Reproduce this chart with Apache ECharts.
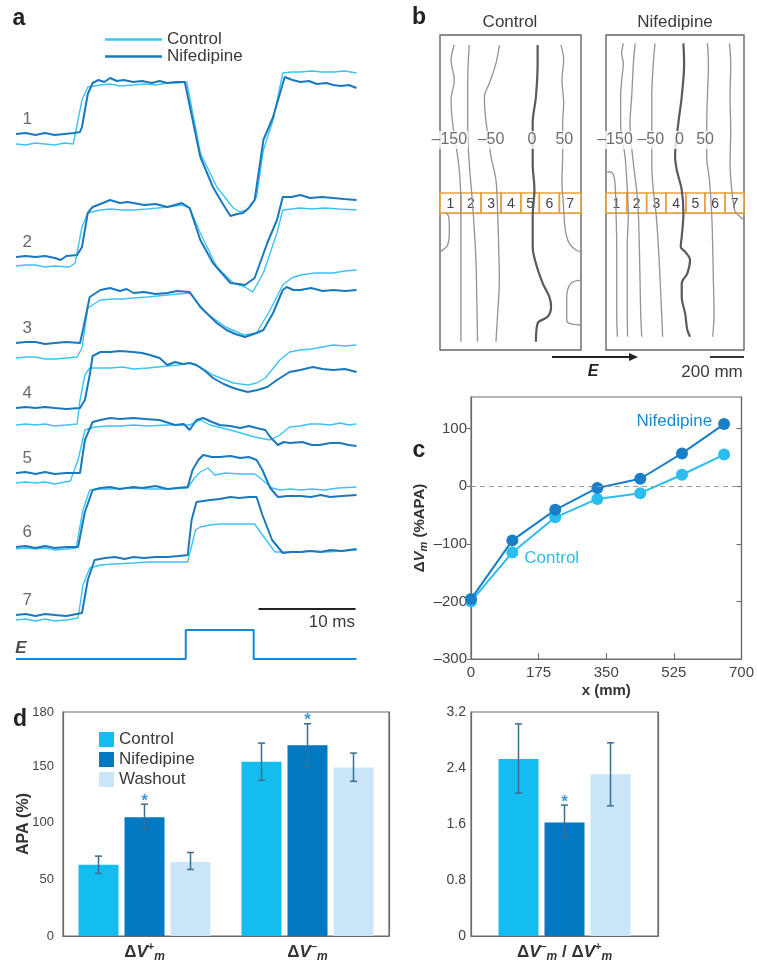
<!DOCTYPE html>
<html>
<head>
<meta charset="utf-8">
<script src="https://cdn.jsdelivr.net/npm/echarts@6/dist/echarts.min.js"></script>
<style>
  html, body { margin: 0; padding: 0; background: #fff; }
  #chart { width: 757px; height: 965px; }
</style>
</head>
<body>
<div id="chart"></div>
<script>
const FONT = 'Liberation Sans, Arial, sans-serif'
const TXT = '#3a3a3a'
const LIGHT = '#3cc4f2'
const DARK = '#1a78bd'
const CLEAR = 'rgba(0,0,0,0)'

// ---------- panel a: traces, [time ms, deflection above the trace row]
const traceRows = [134, 257, 343, 408, 473, 547, 615]
const eRow = 659
const ctrl1 = [[0,-10],[1,-11],[2,-9],[3,-10],[4,-11],[5,-9],[5.9,-10],[6.1,-8],[6.8,34],[7.4,47],[8.7,49],[9.7,50],[10.7,48],[12.1,49],[13.2,50],[14.4,49],[15.6,51],[16.6,51],[17.6,52],[19.0,-19],[20.7,-53],[22.4,-74],[23.1,-78],[23.8,-76],[24.8,-63],[25.5,-16],[26.5,14],[27.5,61],[28.4,62],[29.3,62],[30.5,63],[31.6,62],[32.7,62],[33.9,63],[35.1,61]]
const nif1 = [[0,0],[1,1],[2,-1],[3,1],[4,-1],[5,0],[6,1],[6.6,2],[6.8,7],[7.4,40],[7.9,51],[8.5,54],[9.1,52],[9.7,56],[10.4,53],[11.1,54],[12.1,52],[13,53],[14,51],[14.8,53],[15.6,51],[16.5,52],[17.4,52],[17.6,50],[19.0,-23],[20.3,-53],[21.2,-68],[22.1,-82],[22.8,-80],[23.4,-79],[24.0,-74],[24.6,-66],[25.5,-6],[26.5,17],[27.4,47],[27.7,57],[28.5,54],[29.3,52],[30.2,53],[31,50],[32,51],[32.7,49],[33.5,48],[34.3,49],[35.1,46]]
const ctrl2 = [[0,-9],[1,-8],[2,-8],[3,-10],[4,-9],[5.5,-10],[6.1,-6],[6.8,30],[7.4,44],[8.7,47],[9.7,48],[11,47],[12.1,47],[13.5,48],[14.6,49],[15.6,50],[17.1,52],[17.9,49],[19,24],[20.7,-10],[22.4,-26],[23.6,-30],[24.4,-35],[25.5,-16],[26.9,24],[27.5,47],[28.4,48],[29.3,49],[30.5,48],[31.8,49],[33.3,48],[35.1,47]]
const nif2 = [[0,0],[1,1],[2,0],[3,1],[4,-1],[4.6,-3],[5.2,1],[6.3,2],[6.8,10],[7.4,44],[7.9,50],[8.7,53],[9.7,57],[10.7,54],[11.5,55],[12.1,54],[13.2,52],[14.4,53],[15.6,50],[16.4,52],[17.1,54],[17.9,49],[19.0,17],[20.3,-6],[21.2,-16],[22.1,-26],[23.0,-27],[23.6,-28],[24.6,-21],[25.9,14],[26.9,37],[27.5,60],[28.4,60],[29.3,62],[30.3,59],[31.5,60],[32.7,59],[33.8,58],[35.1,57]]
const ctrl3 = [[0,-15],[1,-14],[2,-14],[3,-16],[4,-16],[5.2,-15],[6.3,-14],[6.8,-5],[7.4,35],[8.7,43],[10,44],[11,44],[12.1,45],[13.5,46],[14.6,47],[15.6,48],[17.9,50],[19.6,30],[21.6,16],[23.5,8],[24.8,10],[26.2,33],[27.5,58],[28.4,65],[29.3,68],[30.8,70],[32.7,70],[33.9,72],[35.1,73]]
const nif3 = [[0,0],[1,1],[2,1],[3,-1],[4,0],[5.2,1],[6.6,0],[6.9,13],[7.6,46],[8.7,53],[9.7,55],[10.7,52],[11.4,54],[12.1,50],[13.2,51],[14.4,49],[15.6,50],[16.6,52],[17.9,51],[19.0,36],[20.7,20],[21.7,13],[22.6,9],[23.6,6],[24.8,10],[25.5,13],[26.5,30],[27.5,53],[27.9,56],[28.6,53],[29.3,53],[30.4,55],[31.6,52],[32.7,53],[33.9,52],[35.1,53]]
const ctrl4 = [[0,-17],[1,-16],[2,-17],[3,-16],[4,-18],[5.2,-17],[6.3,-16],[6.6,8],[7.1,33],[7.6,40],[8.7,40],[9.7,40],[11,41],[12.1,39],[13.6,40],[15.6,42],[16.8,43],[17.9,45],[19.0,41],[20.3,33],[22.4,25],[23.9,23],[24.8,25],[25.7,30],[27.2,48],[28.2,56],[29.3,58],[30.5,59],[31.6,61],[32.7,63],[33.9,62],[35.1,63]]
const nif4 = [[0,0],[1,1],[2,0],[3,1],[4,0],[5.2,-1],[6.6,0],[7.1,8],[7.6,33],[7.9,52],[8.7,56],[9.7,56],[10.7,57],[12.1,56],[13.0,55],[13.8,53],[14.8,50],[15.6,43],[16.4,46],[17.2,44],[17.9,45],[18.6,43],[19.5,37],[20.3,30],[21.4,24],[22.4,20],[23.1,18],[23.9,16],[24.9,18],[25.9,21],[26.9,28],[28.2,36],[29.3,38],[30.6,41],[31.6,39],[32.7,38],[33.9,39],[35.1,36]]
const ctrl5 = [[0,-10],[1,-9],[2,-10],[3,-9],[4,-11],[5.6,-8],[6.4,13],[7.1,43],[8.1,46],[9.5,47],[10.8,47],[12.1,48],[13.6,47],[15.6,48],[17.9,48],[19.0,53],[20.0,48],[22.1,43],[24.6,36],[26.2,33],[27.2,38],[28.2,46],[29.3,47],[30.3,49],[31.3,49],[32.4,48],[33.4,50],[34.3,48],[35.1,49]]
const nif5 = [[0,0],[1,1],[2,-1],[3,1],[4,-1],[5.2,0],[6.6,0],[7.1,33],[7.9,51],[8.7,53],[9.7,55],[10.7,54],[12.1,55],[13.3,54],[14.8,53],[16.4,48],[17.3,49],[17.9,43],[18.6,53],[19.3,55],[20.2,51],[21.0,48],[22.1,47],[23.1,45],[24.0,47],[24.8,45],[25.7,43],[26.2,36],[27.0,28],[27.6,31],[28.2,30],[29.5,31],[30.5,28],[31.3,28],[32.4,30],[33.4,30],[34.3,28],[35.1,27]]
const ctrl6 = [[0,-2],[1,-1],[2,-2],[3,-1],[4,-3],[5.2,-2],[6.2,-1],[6.9,37],[7.6,57],[8.7,58],[9.7,58],[12.1,59],[13.6,58],[15.6,58],[17.7,59],[18.4,69],[19.0,75],[19.8,79],[20.5,72],[21.6,74],[23.1,73],[24.6,73],[25.4,67],[26.4,59],[27.2,57],[28.3,58],[29.3,57],[30.5,58],[31.8,57],[33.2,59],[35.1,60]]
const nif6 = [[0,0],[1,1],[2,-1],[3,1],[4,-1],[5.2,0],[6.4,0],[7.1,35],[7.9,57],[8.7,59],[9.7,60],[10.7,58],[12.1,60],[13.0,59],[14.4,61],[15.6,58],[16.6,59],[17.7,60],[18.2,77],[18.8,87],[19.3,92],[20.2,90],[21.0,90],[22.1,91],[23.1,89],[24.0,90],[24.8,87],[25.4,77],[26.2,59],[27.0,50],[28.0,51],[29.3,51],[30.4,50],[31.4,52],[32.4,50],[33.6,51],[35.1,52]]
const ctrl7 = [[0,-5],[1,-4],[2,-6],[3,-4],[4,-6],[5.2,-5],[6.4,-3],[6.9,30],[7.6,47],[8.7,50],[10,51],[12.1,52],[13.6,53],[15.6,53],[17.7,53],[18.5,85],[19.0,88],[20.0,90],[21.0,91],[22.5,91],[24.6,91],[25.4,80],[26.7,63],[28.0,63],[29.3,63],[30.5,64],[32,63],[33.5,64],[35.1,65]]
const nif7 = [[0,0],[1,1],[2,-1],[3,1],[4,0],[5.2,-1],[6.8,2],[7.4,35],[8.1,55],[9.2,57],[10.2,58],[11.2,56],[12.1,58],[13.2,57],[14.4,58],[15.6,58],[16.8,59],[17.7,60],[18.1,95],[18.6,113],[19.3,114],[20.0,115],[21.0,116],[22.1,118],[23.0,117],[24.0,118],[24.8,118],[25.4,100],[26.4,75],[27.5,62],[28.4,63],[29.3,63],[30.3,64],[31.4,63],[32.4,65],[33.6,64],[35.1,66]]
const stimE = [[0,0],[17.5,0],[17.5,29],[24.5,29],[24.5,0],[35.1,0]]
const ctrlTraces = [ctrl1, ctrl2, ctrl3, ctrl4, ctrl5, ctrl6, ctrl7]
const nifTraces = [nif1, nif2, nif3, nif4, nif5, nif6, nif7]
const scaleBarMs = [25, 35]

// ---------- panel b: isochrones, [x mm, y mm from top]
const ctrlContours = [
  [[84,59],[65,147],[84,265],[65,382],[74,519],[104,715],[118,853],[123,1049],[123,1245],[123,1441],[123,1637],[123,1803]],
  [[172,59],[163,265],[163,559],[172,755],[188,951],[202,1147],[212,1343],[216,1539],[221,1803]],
  [[349,59],[329,167],[290,284],[261,363],[267,480],[300,715],[329,853],[339,1049],[345,1245],[349,1441],[339,1637],[329,1803]],
  [[711,59],[727,147],[717,265],[727,402],[721,519],[721,715],[717,853],[725,990],[737,1147],[760,1225],[800,1264],[829,1274]],
  [[829,1441],[770,1460],[745,1539],[745,1676],[760,1695],[829,1705]],
  [[0,1274],[45,1235],[55,1147],[51,1068],[35,1045]]
]
const ctrlZero = [[574,59],[574,167],[564,363],[545,519],[545,755],[555,911],[545,1068],[545,1245],[564,1343],[604,1460],[643,1539],[653,1597],[633,1656],[574,1695],[564,1803]]
const nifContours = [
  [[8,804],[39,813],[53,872],[59,1049],[63,1245],[63,1441],[63,1637],[67,1774]],
  [[102,49],[92,108],[102,167],[92,265],[86,363],[86,519],[112,715],[122,853],[131,1049],[125,1245],[125,1441],[125,1637],[127,1774]],
  [[171,49],[161,167],[151,363],[141,519],[161,755],[180,911],[190,1049],[196,1245],[200,1441],[204,1637],[210,1774]],
  [[288,49],[278,167],[269,363],[269,519],[269,755],[278,911],[294,1049],[308,1245],[318,1441],[327,1637],[333,1774]],
  [[596,49],[602,167],[596,363],[592,519],[592,715],[608,853],[621,1049],[627,1245],[631,1441],[635,1637],[627,1774]],
  [[725,49],[733,167],[729,363],[733,559],[729,755],[739,911],[749,990],[759,1039],[788,1068],[811,1088]]
]
const nifZero = [[455,49],[459,167],[445,363],[425,519],[406,715],[416,794],[445,911],[455,1049],[445,1186],[439,1245],[465,1274],[494,1323],[478,1401],[445,1460],[445,1539],[465,1637],[478,1735],[494,1774]]
const ctrlLabels = [[55,'–150'],[300,'–50'],[541,'0'],[731,'50']]
const nifLabels = [[53,'–150'],[263,'–50'],[431,'0'],[582,'50']]
const labelY = 617
const cellEdgesCtrl = [0,123,241,359,476,584,702,829]
const cellEdgesNif = [0,122,239,353,470,582,700,811]
const bandY = [929, 1047]
const scaleBarMm = [611, 811]

// ---------- panel c
const cX = [0, 107, 218, 327, 438, 546, 655]
const cControl = [-200, -115, -54, -22, -12, 20, 55]
const cNif = [-196, -94, -41, -3, 13, 57, 108]
const cTicks = [-300, -200, -100, 0, 100]

// ---------- panel d
const dCategories = ['ΔV+m', 'ΔV−m']
const dControl = [63, 154]
const dNif = [105, 168.5]
const dWash = [65.5, 149]
const dControlErr = [[55.3, 70.6], [137.6, 170.5]]
const dNifErr = [[94.4, 116.5], [148.8, 187.6]]
const dWashErr = [[58.8, 73.8], [136.7, 161.7]]
const dTicks = [0, 50, 100, 150]
const ratioCategories = ['ΔV−m / ΔV+m']
const ratioValues = [2.53, 1.62, 2.31]
const ratioErr = [[2.04, 3.03], [1.41, 1.87], [1.86, 2.76]]
const starOn = [0, 1, 0]

const barColors = ['#14bdf0', '#0079c2', '#c9e5f7']

function richDelta (s) {
  return s.split(' / ').map(function (p) {
    const sign = p.charAt(2) === '+' ? '+' : '–'
    return '{b|Δ}{i|V}{sup|' + sign + '}{sub|m}'
  }).join('{b| / }')
}
const deltaRich = {
  b: { fontSize: 17, fontWeight: 'bold', color: '#333', lineHeight: 22, fontFamily: FONT },
  i: { fontSize: 17, fontWeight: 'bold', fontStyle: 'italic', color: '#333', lineHeight: 22, fontFamily: FONT },
  sup: { fontSize: 11, fontWeight: 'bold', color: '#333', lineHeight: 11, verticalAlign: 'top', fontFamily: FONT },
  sub: { fontSize: 12, fontWeight: 'bold', fontStyle: 'italic', color: '#333', lineHeight: 12, verticalAlign: 'bottom', fontFamily: FONT }
}

function errRender (params, api) {
  const cat = api.value(0)
  const cx = api.coord([cat, 0])[0] + (api.value(1) - 1) * 46
  const yl = api.coord([cat, api.value(2)])[1]
  const yh = api.coord([cat, api.value(3)])[1]
  const st = { stroke: '#3b6e93', lineWidth: 1.5 }
  const kids = [
    { type: 'line', shape: { x1: cx, y1: yl, x2: cx, y2: yh }, style: st },
    { type: 'line', shape: { x1: cx - 3.5, y1: yh, x2: cx + 3.5, y2: yh }, style: st },
    { type: 'line', shape: { x1: cx - 3.5, y1: yl, x2: cx + 3.5, y2: yl }, style: st }
  ]
  if (api.value(4)) {
    kids.push({ type: 'text', style: { text: '*', x: cx, y: yh - 3, align: 'center', verticalAlign: 'middle', fill: '#3d9ad6', font: 'bold 17px ' + FONT } })
  }
  return { type: 'group', children: kids }
}

function cellRender (edges) {
  return function (params, api) {
    const i = params.dataIndex
    const p0 = api.coord([edges[i], bandY[0]])
    const p1 = api.coord([edges[i + 1], bandY[1]])
    return {
      type: 'group',
      children: [
        { type: 'rect', shape: { x: p0[0], y: p0[1], width: p1[0] - p0[0], height: p1[1] - p0[1] },
          style: { fill: 'rgba(255,255,255,0.6)', stroke: '#e3a23b', lineWidth: 1.6 } },
        { type: 'text', style: { text: String(i + 1), x: (p0[0] + p1[0]) / 2, y: (p0[1] + p1[1]) / 2 + 1,
          align: 'center', verticalAlign: 'middle', fill: '#444', font: '14px ' + FONT } }
      ]
    }
  }
}

const series = []

// panel a traces
for (let i = 0; i < 7; i++) {
  series.push({
    type: 'line', name: 'Control', xAxisIndex: 0, yAxisIndex: 0, showSymbol: false, silent: true,
    data: ctrlTraces[i].map(p => [p[0], traceRows[i] - p[1]]),
    lineStyle: { color: LIGHT, width: 1.4 }, itemStyle: { color: LIGHT }
  })
  series.push({
    type: 'line', name: 'Nifedipine', xAxisIndex: 0, yAxisIndex: 0, showSymbol: false, silent: true,
    data: nifTraces[i].map(p => [p[0], traceRows[i] - p[1]]),
    lineStyle: { color: DARK, width: 2 }, itemStyle: { color: DARK }
  })
}
series.push({
  type: 'line', xAxisIndex: 0, yAxisIndex: 0, showSymbol: false, silent: true,
  data: stimE.map(p => [p[0], eRow - p[1]]),
  lineStyle: { color: '#1a88d0', width: 2 }
})
series.push({
  type: 'line', xAxisIndex: 0, yAxisIndex: 0, showSymbol: false, silent: true,
  data: scaleBarMs.map(t => [t, 609]),
  lineStyle: { color: '#222', width: 2 }
})
series.push({
  type: 'scatter', xAxisIndex: 0, yAxisIndex: 0, symbolSize: 1, silent: true,
  itemStyle: { color: CLEAR },
  data: traceRows.map((r, i) => ({ value: [1.15, r - 15], name: String(i + 1) })),
  label: { show: true, formatter: '{b}', position: 'inside', fontSize: 17, color: '#444', fontFamily: FONT }
})
series.push({
  type: 'scatter', xAxisIndex: 0, yAxisIndex: 0, symbolSize: 1, silent: true,
  itemStyle: { color: CLEAR },
  data: [{ value: [0.5, 648], name: 'E' }],
  label: { show: true, formatter: '{b}', position: 'inside', fontSize: 17, fontWeight: 'bold', fontStyle: 'italic', color: '#222', fontFamily: FONT }
})

// panel b
function contourSeries (lines, zero, ax) {
  lines.forEach(function (d) {
    series.push({ type: 'line', xAxisIndex: ax, yAxisIndex: ax, data: d, showSymbol: false, smooth: 0.35, silent: true,
      lineStyle: { color: '#939393', width: 1.3 } })
  })
  series.push({ type: 'line', xAxisIndex: ax, yAxisIndex: ax, data: zero, showSymbol: false, smooth: 0.35, silent: true,
    lineStyle: { color: '#5a5a5a', width: 2.2 } })
}
contourSeries(ctrlContours, ctrlZero, 1)
contourSeries(nifContours, nifZero, 2)
series.push({ type: 'custom', xAxisIndex: 1, yAxisIndex: 1, renderItem: cellRender(cellEdgesCtrl), data: cellEdgesCtrl.slice(1), z: 3, silent: true })
series.push({ type: 'custom', xAxisIndex: 2, yAxisIndex: 2, renderItem: cellRender(cellEdgesNif), data: cellEdgesNif.slice(1), z: 3, silent: true })
;[[ctrlLabels, 1], [nifLabels, 2]].forEach(function (pair) {
  series.push({
    type: 'scatter', xAxisIndex: pair[1], yAxisIndex: pair[1], symbolSize: 1, silent: true, z: 4,
    itemStyle: { color: CLEAR },
    data: pair[0].map(l => ({ value: [l[0], labelY], name: l[1] })),
    label: { show: true, formatter: '{b}', position: 'inside', fontSize: 16, color: '#4a4a4a', fontFamily: FONT,
      backgroundColor: '#fff', padding: [1, 1] }
  })
})
series.push({
  type: 'line', xAxisIndex: 2, yAxisIndex: 2, showSymbol: false, silent: true, clip: false,
  data: scaleBarMm.map(x => [x, 1893]),
  lineStyle: { color: '#333', width: 2 }
})

// panel c
series.push({
  type: 'line', name: 'Control', xAxisIndex: 3, yAxisIndex: 3, clip: false,
  symbol: 'circle', symbolSize: 12,
  itemStyle: { color: '#2bbdf0' }, lineStyle: { color: '#2bbdf0', width: 2 },
  data: cX.map((x, i) => i === 1
    ? { value: [x, cControl[i]], label: { show: true, formatter: 'Control', position: 'right', distance: 6, offset: [0, 6], color: '#2bbdf0', fontSize: 17, fontFamily: FONT } }
    : [x, cControl[i]]),
  markLine: { silent: true, symbol: 'none', label: { show: false },
    lineStyle: { color: '#9a9a9a', type: [5, 4], width: 1.2 }, data: [{ yAxis: 0 }] }
})
series.push({
  type: 'line', name: 'Nifedipine', xAxisIndex: 3, yAxisIndex: 3, clip: false,
  symbol: 'circle', symbolSize: 12,
  itemStyle: { color: '#1a7fc6' }, lineStyle: { color: '#1a7fc6', width: 2 },
  data: cX.map((x, i) => i === cX.length - 1
    ? { value: [x, cNif[i]], label: { show: true, formatter: 'Nifedipine', position: 'left', distance: 6, offset: [0, -3], color: '#1a8ad0', fontSize: 17, fontFamily: FONT } }
    : [x, cNif[i]])
})

// panel d
const dNames = ['Control', 'Nifedipine', 'Washout']
;[dControl, dNif, dWash].forEach(function (vals, s) {
  series.push({ type: 'bar', name: dNames[s], xAxisIndex: 4, yAxisIndex: 5, data: vals, barWidth: 40, barGap: '15%',
    itemStyle: { color: barColors[s] } })
  series.push({ type: 'bar', name: dNames[s], xAxisIndex: 5, yAxisIndex: 7, data: [ratioValues[s]], barWidth: 40, barGap: '15%',
    itemStyle: { color: barColors[s] } })
})
const errLeft = []
;[dControlErr, dNifErr, dWashErr].forEach(function (errs, s) {
  errs.forEach(function (e, c) { errLeft.push([c, s, e[0], e[1], starOn[s]]) })
})
series.push({ type: 'custom', xAxisIndex: 4, yAxisIndex: 5, renderItem: errRender, data: errLeft, z: 5, silent: true })
series.push({ type: 'custom', xAxisIndex: 5, yAxisIndex: 7, renderItem: errRender, z: 5, silent: true,
  data: ratioErr.map((e, s) => [0, s, e[0], e[1], starOn[s]]) })

const axLine = { show: true, onZero: false, lineStyle: { color: '#6b6b6b', width: 1.2 } }
const axLabel = { fontSize: 15, color: '#444', fontFamily: FONT }
const tickColor = { color: '#6b6b6b' }

const option = {
  animation: false,
  textStyle: { fontFamily: FONT, color: TXT },
  grid: [
    { left: 16, top: 60, width: 341, height: 608 },
    { left: 440, top: 35, width: 141, height: 315, show: true, borderColor: '#666', borderWidth: 1.4 },
    { left: 606, top: 35, width: 138, height: 315, show: true, borderColor: '#666', borderWidth: 1.4 },
    { left: 471, top: 397, width: 273, height: 262, show: true, borderColor: '#6b6b6b', borderWidth: 1.2 },
    { left: 63, top: 712, width: 326, height: 224, show: true, borderColor: '#6b6b6b', borderWidth: 1.2 },
    { left: 471, top: 712, width: 187, height: 224, show: true, borderColor: '#6b6b6b', borderWidth: 1.2 }
  ],
  xAxis: [
    { gridIndex: 0, type: 'value', min: 0, max: 35.15, show: false },
    { gridIndex: 1, type: 'value', min: 0, max: 829, show: false },
    { gridIndex: 2, type: 'value', min: 0, max: 811, show: false },
    { gridIndex: 3, type: 'value', min: 0, max: 700, interval: 175, axisLine: axLine,
      axisTick: { inside: true, length: 6, lineStyle: tickColor }, axisLabel: Object.assign({ margin: 6 }, axLabel),
      splitLine: { show: false }, name: 'x (mm)', nameLocation: 'middle', nameGap: 24,
      nameTextStyle: { fontSize: 15, fontWeight: 'bold', color: '#333', fontFamily: FONT } },
    { gridIndex: 4, type: 'category', data: dCategories, axisLine: axLine, axisTick: { show: false },
      axisLabel: { interval: 0, margin: 5, formatter: richDelta, rich: deltaRich } },
    { gridIndex: 5, type: 'category', data: ratioCategories, axisLine: axLine, axisTick: { show: false },
      axisLabel: { interval: 0, margin: 5, formatter: richDelta, rich: deltaRich } }
  ],
  yAxis: [
    { gridIndex: 0, type: 'value', inverse: true, min: 60, max: 668, show: false },
    { gridIndex: 1, type: 'value', inverse: true, min: 0, max: 1852, show: false },
    { gridIndex: 2, type: 'value', inverse: true, min: 0, max: 1852, show: false },
    { gridIndex: 3, type: 'value', min: -300, max: 155, interval: 100, axisLine: axLine,
      axisTick: { length: 4, lineStyle: tickColor, customValues: cTicks },
      axisLabel: Object.assign({ margin: 4, customValues: cTicks, formatter: v => String(v).replace('-', '–') }, axLabel),
      splitLine: { show: false }, name: '{b|Δ}{i|V}{s|m}{b| (%APA)}', nameLocation: 'middle', nameGap: 36, nameRotate: 90,
      nameTextStyle: { rich: {
        b: { fontSize: 15, fontWeight: 'bold', color: '#333', fontFamily: FONT, lineHeight: 20 },
        i: { fontSize: 15, fontWeight: 'bold', fontStyle: 'italic', color: '#333', fontFamily: FONT, lineHeight: 20 },
        s: { fontSize: 11, fontWeight: 'bold', fontStyle: 'italic', color: '#333', fontFamily: FONT, lineHeight: 11, verticalAlign: 'bottom' }
      } } },
    { gridIndex: 3, type: 'value', position: 'right', min: -300, max: 155, interval: 100, axisLine: axLine,
      axisTick: { inside: true, length: 5, lineStyle: tickColor, customValues: cTicks.slice(1) }, axisLabel: { show: false }, splitLine: { show: false } },
    { gridIndex: 4, type: 'value', min: 0, max: 198, interval: 50, axisLine: axLine,
      axisTick: { length: 5, lineStyle: tickColor, customValues: dTicks.slice(1) },
      axisLabel: { margin: 9, fontSize: 13, color: '#444', fontFamily: FONT, customValues: dTicks.concat([198]),
        formatter: v => (v === 198 ? '180' : v) },
      splitLine: { show: false }, name: 'APA (%)', nameLocation: 'middle', nameGap: 31, nameMoveOverlap: false,
      nameTextStyle: { fontSize: 16, fontWeight: 'bold', color: '#333', fontFamily: FONT } },
    { gridIndex: 4, type: 'value', position: 'right', min: 0, max: 198, interval: 50, axisLine: axLine,
      axisTick: { inside: true, length: 5, lineStyle: tickColor, customValues: dTicks.slice(1) }, axisLabel: { show: false }, splitLine: { show: false } },
    { gridIndex: 5, type: 'value', min: 0, max: 3.2, interval: 0.8, axisLine: axLine,
      axisTick: { show: false },
      axisLabel: { margin: 5, fontSize: 14, color: '#444', fontFamily: FONT, formatter: v => (v === 0 ? '0' : v.toFixed(1)) },
      splitLine: { show: false } },
    { gridIndex: 5, type: 'value', position: 'right', min: 0, max: 3.2, interval: 0.8, axisLine: axLine,
      axisTick: { inside: true, length: 5, lineStyle: tickColor }, axisLabel: { show: false }, splitLine: { show: false } }
  ],
  legend: [
    { left: 100, top: 26, orient: 'vertical', icon: 'rect', itemWidth: 57, itemHeight: 2.5, itemGap: 0, selectedMode: false,
      textStyle: { fontSize: 17, color: TXT, lineHeight: 14, fontFamily: FONT },
      data: [{ name: 'Control', itemStyle: { color: LIGHT } }, { name: 'Nifedipine', itemStyle: { color: DARK } }] },
    { left: 94, top: 726, orient: 'vertical', icon: 'rect', itemWidth: 15, itemHeight: 15, itemGap: 3, selectedMode: false,
      textStyle: { fontSize: 17, color: TXT, fontFamily: FONT },
      data: dNames.map((n, s) => ({ name: n, itemStyle: { color: barColors[s] } })) }
  ],
  graphic: [
    { type: 'text', x: 19, y: 19, style: { text: 'a', font: 'bold 23px ' + FONT, fill: '#222', align: 'center', verticalAlign: 'middle' } },
    { type: 'text', x: 419, y: 18, style: { text: 'b', font: 'bold 23px ' + FONT, fill: '#222', align: 'center', verticalAlign: 'middle' } },
    { type: 'text', x: 419, y: 451, style: { text: 'c', font: 'bold 23px ' + FONT, fill: '#222', align: 'center', verticalAlign: 'middle' } },
    { type: 'text', x: 20, y: 720, style: { text: 'd', font: 'bold 23px ' + FONT, fill: '#222', align: 'center', verticalAlign: 'middle' } },
    { type: 'text', x: 510, y: 22, style: { text: 'Control', font: '17px ' + FONT, fill: TXT, align: 'center', verticalAlign: 'middle' } },
    { type: 'text', x: 675, y: 22, style: { text: 'Nifedipine', font: '17px ' + FONT, fill: TXT, align: 'center', verticalAlign: 'middle' } },
    { type: 'line', shape: { x1: 552, y1: 357, x2: 630, y2: 357 }, style: { stroke: '#222', lineWidth: 2 } },
    { type: 'polygon', shape: { points: [[629, 353], [638, 357], [629, 361]] }, style: { fill: '#222' } },
    { type: 'text', x: 593, y: 372, style: { text: 'E', font: 'italic bold 16px ' + FONT, fill: '#222', align: 'center', verticalAlign: 'middle' } },
    { type: 'text', x: 712, y: 372, style: { text: '200 mm', font: '17px ' + FONT, fill: TXT, align: 'center', verticalAlign: 'middle' } },
    { type: 'text', x: 355, y: 622, style: { text: '10 ms', font: '17px ' + FONT, fill: TXT, align: 'right', verticalAlign: 'middle' } }
  ],
  series: series
}

const chart = echarts.init(document.getElementById('chart'))
chart.setOption(option)
</script>
</body>
</html>
